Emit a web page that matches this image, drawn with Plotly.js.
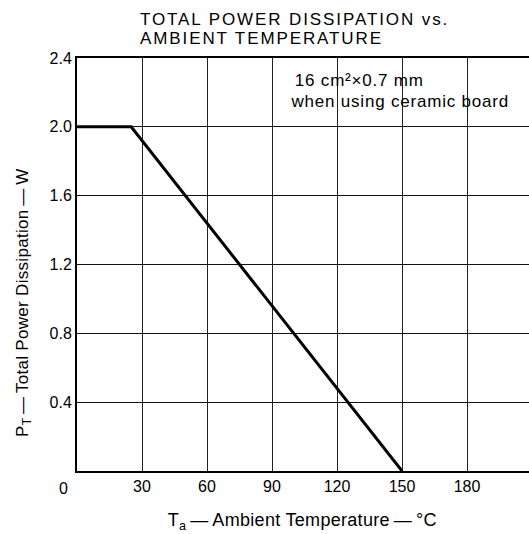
<!DOCTYPE html>
<html>
<head>
<meta charset="utf-8">
<script src="https://cdn.plot.ly/plotly-3.0.1.min.js"></script>
<style>
html,body{margin:0;padding:0;background:#fff;}
#chart{width:529px;height:534px;}
.annotation[data-index="0"] text, .annotation[data-index="1"] text { letter-spacing: 1.9px; }
.annotation[data-index="5"] text, .annotation[data-index="6"] text { letter-spacing: 0.8px; }
.annotation[data-index="3"] text, .annotation[data-index="4"] text { letter-spacing: 0.3px; }
</style>
</head>
<body>
<div id="chart"></div>
<script>
// Data
const temperature = [0, 25, 150];          // Ta (°C)
const powerDissipation = [2.0, 2.0, 0.0];  // PT (W)

const xTickValues = [30, 60, 90, 120, 150, 180];
const xTickLabels = ["30", "60", "90", "120", "150", "180"];
const yTickValues = [0.4, 0.8, 1.2, 1.6, 2.0, 2.4];
const yTickLabels = ["0.4", "0.8", "1.2", "1.6", "2.0", "2.4"];

const titleLines = ["TOTAL POWER DISSIPATION vs.", "AMBIENT TEMPERATURE"];
const xTitle = "T<sub>a</sub>\u2009—\u2009Ambient Temperature\u2009—\u2009°C";
const yTitle = "P<sub>T</sub>\u2009—\u2009Total Power Dissipation\u2009—\u2009W";
const noteLines = ["16 cm²×0.7 mm", "when using ceramic board"];

const font = "Liberation Sans, Arial, sans-serif";

const trace = {
  x: temperature,
  y: powerDissipation,
  mode: "lines",
  line: {color: "#000", width: 3},
  hoverinfo: "skip",
  showlegend: false
};

// plot area geometry helpers (paper fractions)
const L = 77, T = 58, W = 452, H = 412.7, B = 534 - 58 - 412.7;
const px = v => (v - L) / W;
const py = v => (T + H - v) / H;

const layout = {
  width: 529,
  height: 534,
  margin: {l: L, r: 0, t: T, b: B},
  paper_bgcolor: "#fff",
  plot_bgcolor: "#fff",
  font: {family: font, color: "#000", size: 16},
  showlegend: false,
  xaxis: {
    range: [0, 208.6],
    tickvals: xTickValues,
    ticktext: xTickLabels,
    ticks: "",
    showgrid: true,
    gridcolor: "#222",
    gridwidth: 1,
    zeroline: false,
    showline: true,
    linecolor: "#000",
    linewidth: 2,
    mirror: true,
    tickfont: {size: 16, family: font, color: "#000"},
    fixedrange: true
  },
  yaxis: {
    range: [0, 2.4],
    tickvals: yTickValues,
    ticktext: yTickLabels,
    ticks: "",
    showgrid: true,
    gridcolor: "#111",
    gridwidth: 1,
    zeroline: false,
    showline: true,
    linecolor: "#000",
    linewidth: 2,
    tickfont: {size: 16, family: font, color: "#000"},
    fixedrange: true
  },
  annotations: [
    {text: titleLines[0], xref: "paper", yref: "paper", x: px(138), y: py(19.5),
     xanchor: "left", yanchor: "middle", align: "left", showarrow: false,
     font: {size: 17, family: font, color: "#000"}},
    {text: titleLines[1], xref: "paper", yref: "paper", x: px(138), y: py(38.5),
     xanchor: "left", yanchor: "middle", align: "left", showarrow: false,
     font: {size: 17, family: font, color: "#000"}},
    {text: "0", xref: "paper", yref: "paper", x: px(63), y: py(488),
     xanchor: "center", yanchor: "middle", showarrow: false,
     font: {size: 16, family: font, color: "#000"}},
    {text: xTitle, xref: "paper", yref: "paper", x: px(302), y: py(521),
     xanchor: "center", yanchor: "middle", showarrow: false,
     font: {size: 18, family: font, color: "#000"}},
    {text: yTitle, xref: "paper", yref: "paper", x: px(24), y: py(303),
     xanchor: "center", yanchor: "middle", textangle: -90, showarrow: false,
     font: {size: 17, family: font, color: "#000"}},
    {text: noteLines[0], xref: "paper", yref: "paper", x: px(298), y: py(80),
     xanchor: "left", yanchor: "middle", showarrow: false,
     font: {size: 17, family: font, color: "#000"}},
    {text: noteLines[1], xref: "paper", yref: "paper", x: px(298), y: py(101),
     xanchor: "left", yanchor: "middle", showarrow: false,
     font: {size: 17, family: font, color: "#000"}}
  ]
};

Plotly.newPlot("chart", [trace], layout, {staticPlot: true, displayModeBar: false});
</script>
</body>
</html>
